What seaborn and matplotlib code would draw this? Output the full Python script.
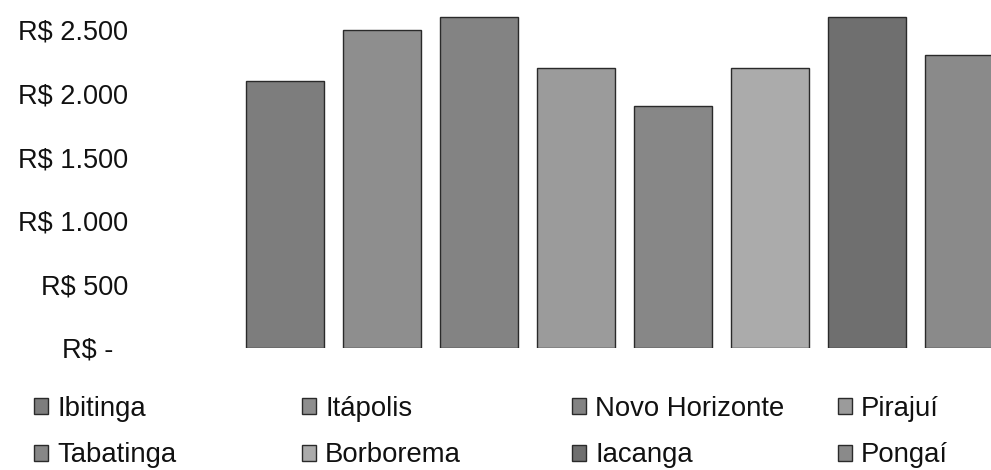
import matplotlib
matplotlib.use("Agg")
import matplotlib.pyplot as plt
import seaborn as sns
import pandas as pd

# ---- data ----
cities = ["Ibitinga", "Itápolis", "Novo Horizonte", "Pirajuí",
          "Tabatinga", "Borborema", "Iacanga", "Pongaí"]
values = [2100, 2500, 2600, 2200, 1900, 2200, 2600, 2300]
colors = ["#7d7d7d", "#8e8e8e", "#838383", "#9b9b9b",
          "#878787", "#ababab", "#6f6f6f", "#8a8a8a"]
yticks = [0, 500, 1000, 1500, 2000, 2500]
ytick_labels = ["R$ -\u00a0\u00a0", "R$ 500", "R$ 1.000", "R$ 1.500",
                "R$ 2.000", "R$ 2.500"]

sns.set_theme(style="white")
plt.rcParams["font.family"] = ["Liberation Sans", "DejaVu Sans"]

W, H = 991, 470
fig = plt.figure(figsize=(W / 100, H / 100), dpi=100)
ax = fig.add_axes([236.5 / W, (H - 348) / H, 776 / W, 350 / H])

df = pd.DataFrame({"city": cities, "value": values})
sns.barplot(data=df, x="city", y="value", hue="city", palette=colors,
            width=0.8, legend=False, ax=ax, edgecolor="#2a2a2a",
            linewidth=1.0, saturation=1)

ax.set_xlim(-0.5, len(cities) - 0.5)
ax.set_ylim(0, 2750)
ax.set_yticks(yticks)
ax.set_yticklabels(ytick_labels, fontsize=19.5, color="#111111")
ax.tick_params(axis="y", length=0, pad=78)
ax.set_xticks([])
ax.set_xlabel("")
ax.set_ylabel("")
for s in ax.spines.values():
    s.set_visible(False)

# legend: 4 columns x 2 rows, positioned like the original
patches = ax.patches[:len(cities)]
col_x = [34, 302, 572, 838]
for c in range(4):
    fig.legend(handles=[patches[c], patches[c + 4]],
               labels=[cities[c], cities[c + 4]],
               loc="upper left",
               bbox_to_anchor=(col_x[c] / W, (H - 396) / H),
               frameon=False, fontsize=19.8, borderpad=0,
               borderaxespad=0, handlelength=0.52, handleheight=0.52,
               handletextpad=0.32, labelspacing=0.74,
               labelcolor="#111111")

fig.savefig("out.png", dpi=100)
